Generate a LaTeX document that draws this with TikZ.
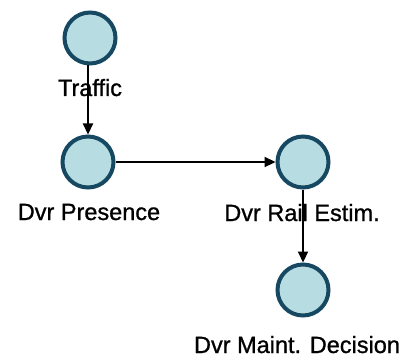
\documentclass[tikz,border=0pt]{standalone}
\usepackage{fontspec}
\setmainfont{Liberation Sans}
\newfontfamily\lblfont[FakeBold=0.9]{Liberation Sans}
\usetikzlibrary{arrows.meta}
\definecolor{cfill}{HTML}{B7DCE2}
\definecolor{cdraw}{HTML}{174862}
\begin{document}
\begin{tikzpicture}[x=1pt,y=-1pt,
  state/.style={circle,draw=cdraw,fill=cfill,line width=4pt,minimum size=51pt,inner sep=0pt},
  lbl/.style={font=\lblfont\fontsize{23.5}{26}\selectfont,text=black,inner sep=0pt,anchor=base},
  conn/.style={black,line width=2.2pt,-{Triangle[length=11pt,width=10pt]}}]
\useasboundingbox (0,0) rectangle (411,358);
\node[state] (t) at (90,38) {};
\node[state] (p) at (88,162) {};
\node[state] (r) at (303,162) {};
\node[state] (m) at (303,290) {};
\node[lbl] (tl) at (90,96) {Traffic};
\node[lbl] (pl) at (89,220) {Dvr Presence};
\node[lbl] (rl) at (302,221) {Dvr Rail Estim.};
\node[lbl] (ml) at (297,353) {Dvr Maint. Decision};
\draw[conn] (t.south -| p.center) -- (p.north);
\draw[conn] (p.east) -- (r.west);
\draw[conn] (r.south) -- (m.north);
\end{tikzpicture}
\end{document}
